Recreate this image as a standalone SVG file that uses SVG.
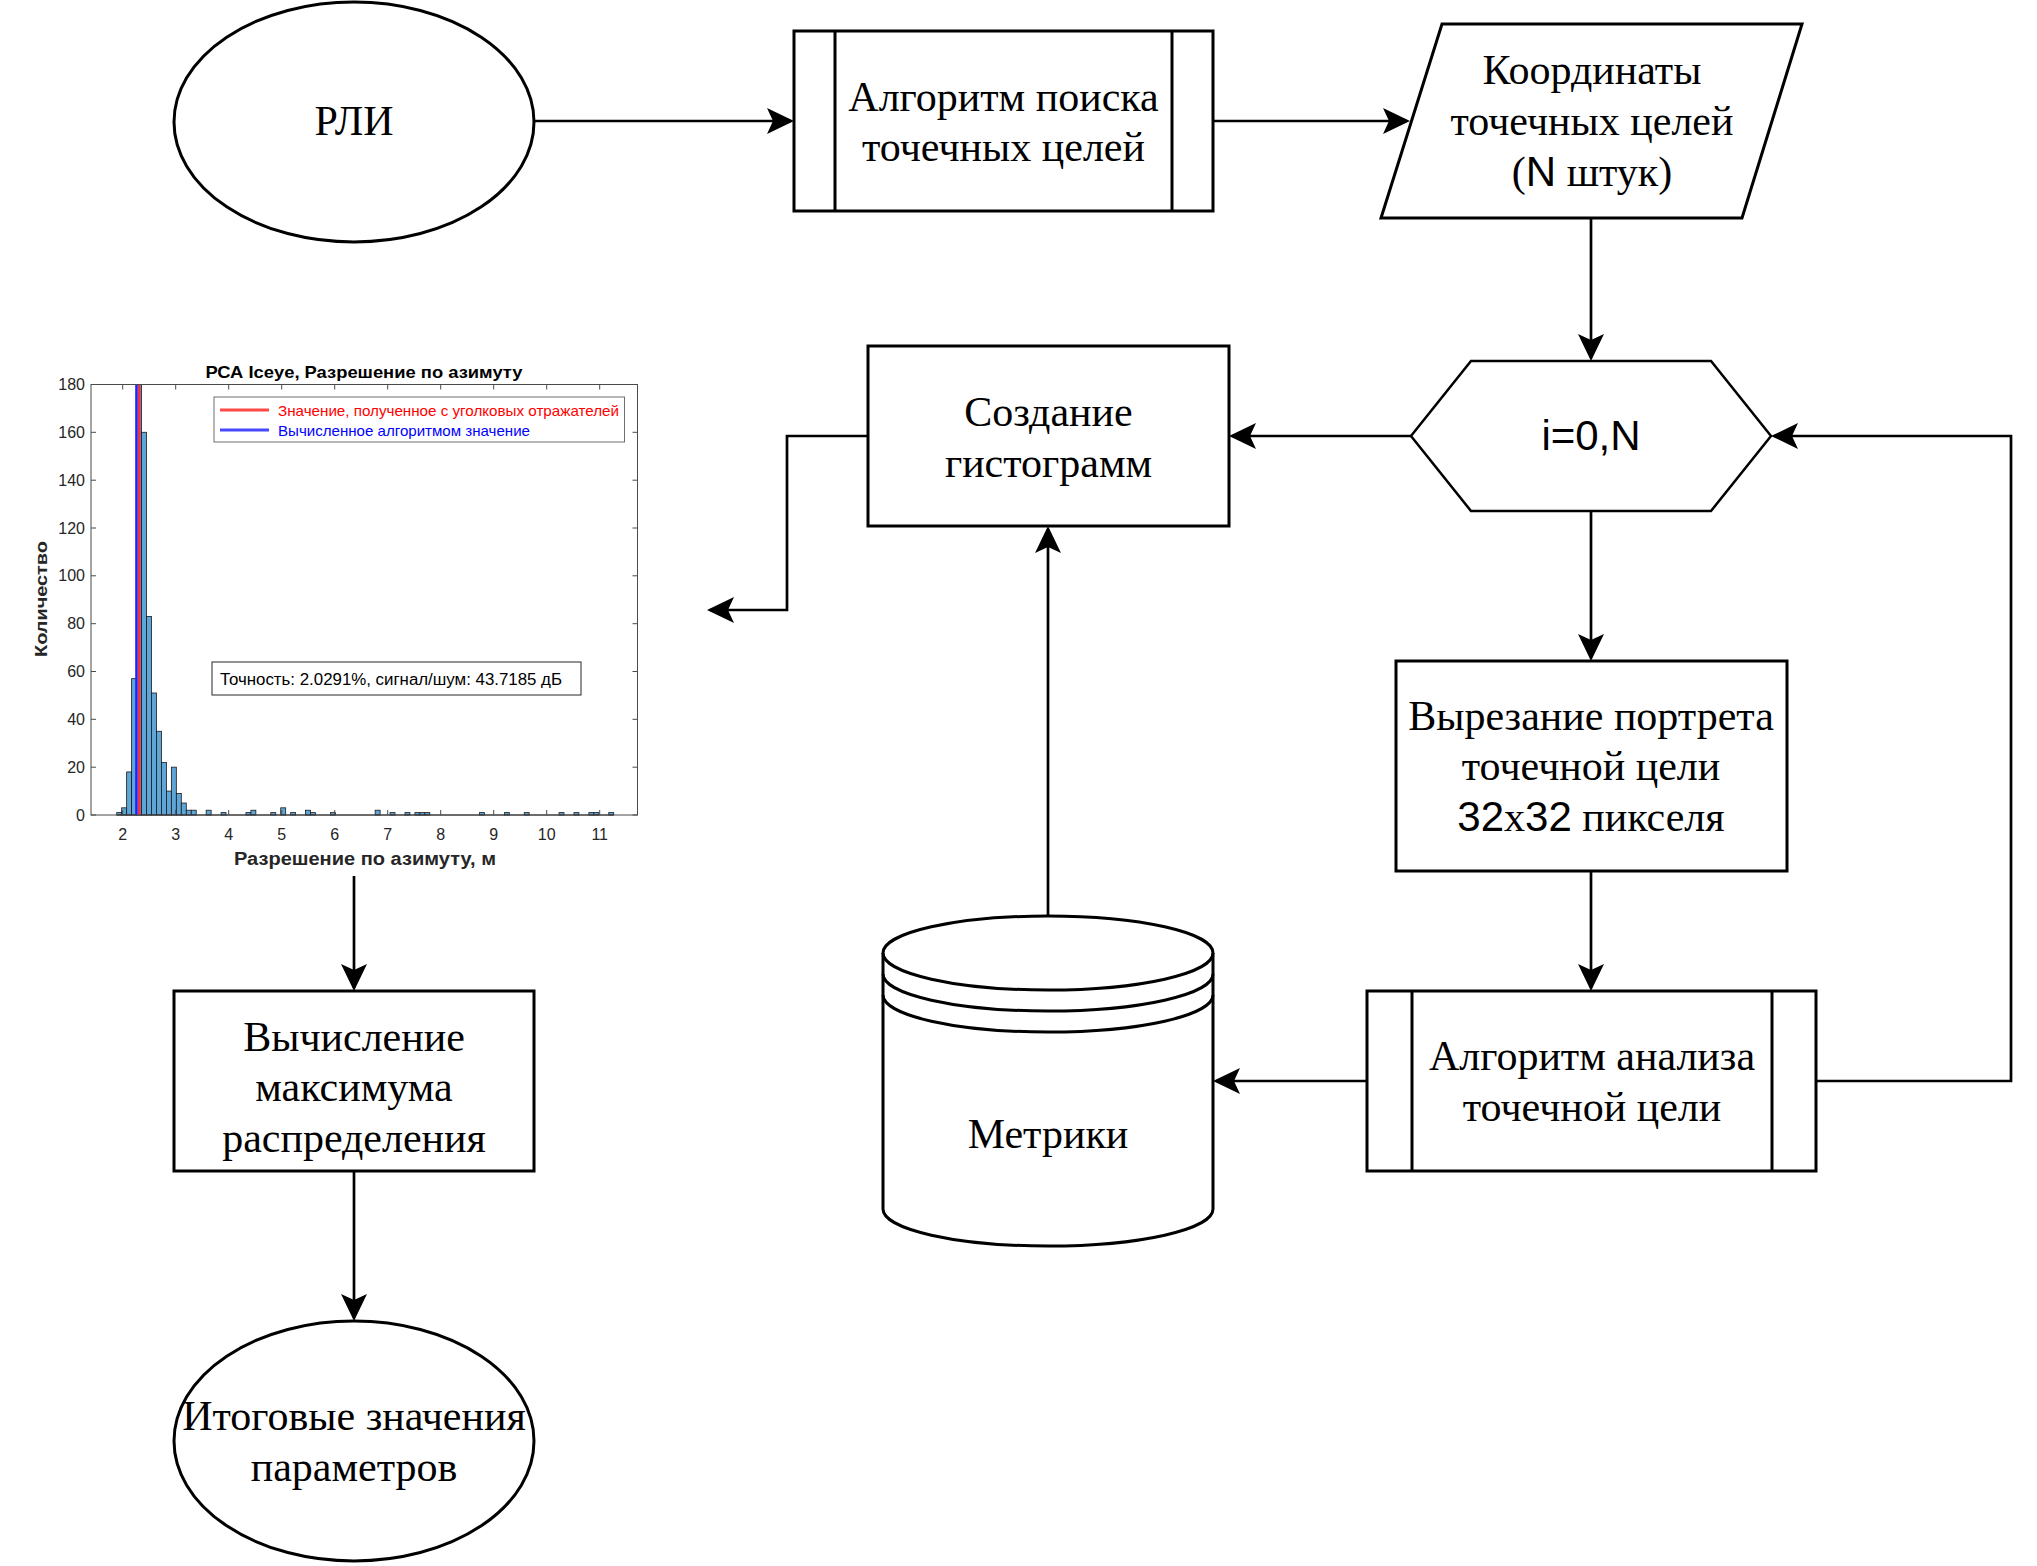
<svg xmlns="http://www.w3.org/2000/svg" width="2037" height="1566" viewBox="0 0 2037 1566">
<defs>
<style>
.sh{fill:#fff;stroke:#000;stroke-width:3}
.hx{fill:#fff;stroke:#000;stroke-width:2.5}
.ln{fill:none;stroke:#000;stroke-width:3}
.cn{fill:none;stroke:#000;stroke-width:2.7;marker-end:url(#arr)}
.t{font-family:"Liberation Serif","Times New Roman",serif;font-size:42px;text-anchor:middle;fill:#000}
.sf{font-family:"Liberation Sans",Arial,sans-serif}
.ax{fill:none;stroke:#4a4a4a;stroke-width:1}
.tk{font-family:"Liberation Sans",Arial,sans-serif;font-size:16px;fill:#262626}
.bar{fill:#5ea5d8;stroke:#1a1a1a;stroke-width:0.8}
</style>
<marker id="arr" markerUnits="userSpaceOnUse" markerWidth="28" markerHeight="27" refX="24" refY="13" orient="auto" overflow="visible">
<path d="M27,13 L0,0 L6,13 L0,26 Z" fill="#000"/>
</marker>
</defs>
<rect width="2037" height="1566" fill="#fff"/>

<g id="connectors">
<path class="cn" d="M534,121 H791"/>
<path class="cn" d="M1213,121 H1407"/>
<path class="cn" d="M1591,218 V358"/>
<path class="cn" d="M1411,436 H1232"/>
<path class="cn" d="M868,436 H787 V610 H710"/>
<path class="cn" d="M1591,511 V658"/>
<path class="cn" d="M1591,871 V988"/>
<path class="cn" d="M1367,1081 H1216"/>
<path class="cn" d="M1816,1081 H2011 V436 H1774"/>
<path class="cn" d="M1048,916 V529"/>
<path class="cn" d="M354,876 V988"/>
<path class="cn" d="M354,1171 V1318"/>
</g>

<g id="n_rli">
<ellipse class="sh" cx="354" cy="122" rx="180" ry="120"/>
<text class="t" x="354" y="135">РЛИ</text>
</g>

<g id="n_search">
<rect class="sh" x="794" y="31" width="419" height="180"/>
<line class="ln" x1="835" y1="31" x2="835" y2="211"/>
<line class="ln" x1="1172" y1="31" x2="1172" y2="211"/>
<text class="t" x="1003.5" y="111">Алгоритм поиска</text>
<text class="t" x="1003.5" y="161">точечных целей</text>
</g>

<g id="n_coords">
<polygon class="sh" points="1442,24 1802,24 1742,218 1381,218"/>
<text class="t" x="1592" y="84">Координаты</text>
<text class="t" x="1592" y="135">точечных целей</text>
<text class="t" x="1592" y="186">(<tspan class="sf">N</tspan> штук)</text>
</g>

<g id="n_loop">
<polygon class="hx" points="1471,361 1711,361 1771,436 1711,511 1471,511 1411,436"/>
<text class="t sf" x="1591" y="450">i=0,N</text>
</g>

<g id="n_hist_create">
<rect class="sh" x="868" y="346" width="361" height="180"/>
<text class="t" x="1048.5" y="425.5">Создание</text>
<text class="t" x="1048.5" y="476.5">гистограмм</text>
</g>

<g id="n_cut">
<rect class="sh" x="1396" y="661" width="391" height="210"/>
<text class="t" x="1591" y="730">Вырезание портрета</text>
<text class="t" x="1591" y="780">точечной цели</text>
<text class="t" x="1591" y="831"><tspan class="sf">32</tspan>x<tspan class="sf">32</tspan> пикселя</text>
</g>

<g id="n_analysis">
<rect class="sh" x="1367" y="991" width="449" height="180"/>
<line class="ln" x1="1412" y1="991" x2="1412" y2="1171"/>
<line class="ln" x1="1772" y1="991" x2="1772" y2="1171"/>
<text class="t" x="1592" y="1070">Алгоритм анализа</text>
<text class="t" x="1592" y="1121">точечной цели</text>
</g>

<g id="n_metrics">
<path class="sh" d="M883,953 A165,37 0 0 1 1213,953 L1213,1209 A165,37 0 0 1 883,1209 Z"/>
<path class="ln" stroke-width="2.7" d="M883,953 A165,37 0 0 0 1213,953 M883,974 A165,37 0 0 0 1213,974 M883,995 A165,37 0 0 0 1213,995"/>
<text class="t" x="1048" y="1148">Метрики</text>
</g>

<g id="n_max">
<rect class="sh" x="174" y="991" width="360" height="180"/>
<text class="t" x="354" y="1051">Вычисление</text>
<text class="t" x="354" y="1101">максимума</text>
<text class="t" x="354" y="1152">распределения</text>
</g>

<g id="n_result">
<ellipse class="sh" cx="354" cy="1441" rx="180" ry="120"/>
<text class="t" x="354" y="1430">Итоговые значения</text>
<text class="t" x="354" y="1481">параметров</text>
</g>

<g id="n_chart">
<rect x="91" y="384.5" width="546.5" height="430.5" fill="#fff"/>
<g>
<rect class="bar" x="116.70" y="812.61" width="4.97" height="2.39"/>
<rect class="bar" x="121.67" y="807.82" width="4.97" height="7.18"/>
<rect class="bar" x="126.64" y="771.94" width="4.97" height="43.06"/>
<rect class="bar" x="131.61" y="678.66" width="4.97" height="136.34"/>
<rect class="bar" x="136.58" y="384.5" width="4.97" height="430.5"/>
<rect class="bar" x="141.55" y="432.28" width="4.97" height="382.72"/>
<rect class="bar" x="146.52" y="616.46" width="4.97" height="198.54"/>
<rect class="bar" x="151.49" y="693.01" width="4.97" height="121.99"/>
<rect class="bar" x="156.46" y="731.28" width="4.97" height="83.72"/>
<rect class="bar" x="161.43" y="762.38" width="4.97" height="52.62"/>
<rect class="bar" x="166.40" y="791.08" width="4.97" height="23.92"/>
<rect class="bar" x="171.37" y="767.16" width="4.97" height="47.84"/>
<rect class="bar" x="176.34" y="793.47" width="4.97" height="21.53"/>
<rect class="bar" x="181.31" y="803.04" width="4.97" height="11.96"/>
<rect class="bar" x="186.28" y="810.22" width="4.97" height="4.78"/>
<rect class="bar" x="191.25" y="810.22" width="4.97" height="4.78"/>
<rect class="bar" x="206.16" y="810.22" width="4.97" height="4.78"/>
<rect class="bar" x="221.07" y="812.61" width="4.97" height="2.39"/>
<rect class="bar" x="245.92" y="812.61" width="4.97" height="2.39"/>
<rect class="bar" x="250.89" y="810.22" width="4.97" height="4.78"/>
<rect class="bar" x="270.77" y="812.61" width="4.97" height="2.39"/>
<rect class="bar" x="280.71" y="807.82" width="4.97" height="7.18"/>
<rect class="bar" x="290.65" y="812.61" width="4.97" height="2.39"/>
<rect class="bar" x="305.56" y="810.22" width="4.97" height="4.78"/>
<rect class="bar" x="310.53" y="812.61" width="4.97" height="2.39"/>
<rect class="bar" x="330.41" y="812.61" width="4.97" height="2.39"/>
<rect class="bar" x="375.14" y="810.22" width="4.97" height="4.78"/>
<rect class="bar" x="390.05" y="812.61" width="4.97" height="2.39"/>
<rect class="bar" x="404.96" y="812.61" width="4.97" height="2.39"/>
<rect class="bar" x="414.90" y="812.61" width="4.97" height="2.39"/>
<rect class="bar" x="419.87" y="812.61" width="4.97" height="2.39"/>
<rect class="bar" x="424.84" y="812.61" width="4.97" height="2.39"/>
<rect class="bar" x="479.51" y="812.61" width="4.97" height="2.39"/>
<rect class="bar" x="504.36" y="812.61" width="4.97" height="2.39"/>
<rect class="bar" x="524.24" y="812.61" width="4.97" height="2.39"/>
<rect class="bar" x="559.03" y="812.61" width="4.97" height="2.39"/>
<rect class="bar" x="573.94" y="812.61" width="4.97" height="2.39"/>
<rect class="bar" x="588.85" y="812.61" width="4.97" height="2.39"/>
<rect class="bar" x="593.82" y="812.61" width="4.97" height="2.39"/>
<rect class="bar" x="608.73" y="812.61" width="4.97" height="2.39"/>
</g>
<line x1="116.7" y1="815" x2="613.7" y2="815" stroke="#1a1a1a" stroke-width="1"/>
<line x1="136.4" y1="384.5" x2="136.4" y2="815" stroke="#1f1fff" stroke-width="2.4"/>
<line x1="139.2" y1="384.5" x2="139.2" y2="815" stroke="#f03040" stroke-width="2.6"/>
<rect class="ax" x="91" y="384.5" width="546.5" height="430.5"/>
<path class="ax" d="M91,815h5M91,767.2h5M91,719.3h5M91,671.5h5M91,623.7h5M91,575.8h5M91,528h5M91,480.2h5M91,432.3h5M91,384.5h5
M637.5,815h-5M637.5,767.2h-5M637.5,719.3h-5M637.5,671.5h-5M637.5,623.7h-5M637.5,575.8h-5M637.5,528h-5M637.5,480.2h-5M637.5,432.3h-5M637.5,384.5h-5
M122.7,815v-5M175.7,815v-5M228.7,815v-5M281.7,815v-5M334.7,815v-5M387.7,815v-5M440.7,815v-5M493.7,815v-5M546.7,815v-5M599.7,815v-5
M122.7,384.5v5M175.7,384.5v5M228.7,384.5v5M281.7,384.5v5M334.7,384.5v5M387.7,384.5v5M440.7,384.5v5M493.7,384.5v5M546.7,384.5v5M599.7,384.5v5"/>
<g class="tk" text-anchor="end">
<text x="85" y="820.5">0</text>
<text x="85" y="772.7">20</text>
<text x="85" y="724.8">40</text>
<text x="85" y="677">60</text>
<text x="85" y="629.2">80</text>
<text x="85" y="581.3">100</text>
<text x="85" y="533.5">120</text>
<text x="85" y="485.7">140</text>
<text x="85" y="437.8">160</text>
<text x="85" y="390">180</text>
</g>
<g class="tk" text-anchor="middle">
<text x="122.7" y="839.5">2</text>
<text x="175.7" y="839.5">3</text>
<text x="228.7" y="839.5">4</text>
<text x="281.7" y="839.5">5</text>
<text x="334.7" y="839.5">6</text>
<text x="387.7" y="839.5">7</text>
<text x="440.7" y="839.5">8</text>
<text x="493.7" y="839.5">9</text>
<text x="546.7" y="839.5">10</text>
<text x="599.7" y="839.5">11</text>
</g>
<text x="364" y="377.5" font-family="Liberation Sans, Arial, sans-serif" font-weight="bold" font-size="17" text-anchor="middle" fill="#000" textLength="317" lengthAdjust="spacingAndGlyphs">РСА Iceye, Разрешение по азимуту</text>
<text x="365" y="865" font-family="Liberation Sans, Arial, sans-serif" font-weight="bold" font-size="18" text-anchor="middle" fill="#262626" textLength="262" lengthAdjust="spacingAndGlyphs">Разрешение по азимуту, м</text>
<text transform="translate(47,599) rotate(-90)" font-family="Liberation Sans, Arial, sans-serif" font-weight="bold" font-size="17" text-anchor="middle" fill="#262626" textLength="116" lengthAdjust="spacingAndGlyphs">Количество</text>
<rect x="214" y="397" width="410.5" height="45" fill="#fff" stroke="#6e6e6e" stroke-width="1"/>
<line x1="220" y1="410" x2="269" y2="410" stroke="#ff4848" stroke-width="3"/>
<line x1="220" y1="430" x2="269" y2="430" stroke="#4848ff" stroke-width="3"/>
<text x="278" y="415.5" font-family="Liberation Sans, Arial, sans-serif" font-size="15" fill="#ff0000" textLength="341" lengthAdjust="spacingAndGlyphs">Значение, полученное с уголковых отражателей</text>
<text x="278" y="435.5" font-family="Liberation Sans, Arial, sans-serif" font-size="15" fill="#0000ff" textLength="252" lengthAdjust="spacingAndGlyphs">Вычисленное алгоритмом значение</text>
<rect x="212" y="662" width="369" height="33" fill="#fff" stroke="#262626" stroke-width="1"/>
<text x="220" y="685" font-family="Liberation Sans, Arial, sans-serif" font-size="16" fill="#000" textLength="342" lengthAdjust="spacingAndGlyphs">Точность: 2.0291%, сигнал/шум: 43.7185 дБ</text>
</g>
</svg>
